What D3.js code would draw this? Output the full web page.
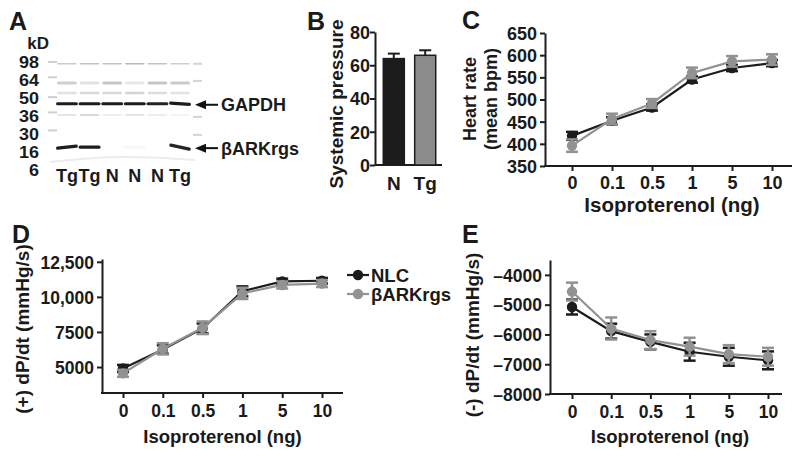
<!DOCTYPE html>
<html><head><meta charset="utf-8">
<script src="https://cdn.jsdelivr.net/npm/d3@7"></script>
<style>
html,body{margin:0;padding:0;background:#fff;}
svg text{font-family:"Liberation Sans",Arial,sans-serif;font-weight:bold;fill:#1a1a1a;}
</style></head>
<body>
<svg id="fig" width="800" height="456"></svg>
<script>
// ---------- DATA ----------
// Panel A (western blot)
const markerLabels = ["98","64","50","36","30","16","6"];
const laneLabels = ["Tg","Tg","N","N","N","Tg"];
// band rows: position in marker-index units, intensity per lane
const bandRowPos   = [0.1, 1.17, 1.72, 2.32, 2.95, 4.73];
const bandRowName  = ["", "", "", "GAPDH", "", "βARKrgs"];
const bandRowThick = [1.5, 3, 2.5, 3.2, 1.5, 3.2];
const bandIntensity = [
  [0.22,0.26,0.26,0.30,0.26,0.20],
  [0.20,0.12,0.24,0.10,0.24,0.22],
  [0.12,0.16,0.16,0.18,0.14,0.12],
  [0.95,0.95,0.95,0.95,0.92,0.95],
  [0.14,0.22,0.10,0.14,0.10,0.06],
  [0.95,0.95,0.00,0.03,0.00,0.92]
];
const ladderLeft  = [0, 0.85, 1.95, 2.8, 3.8];
const ladderRight = [0.1, 1.05, 3.05, 4.05];

// Panel B
const bCategories = ["N","Tg"];
const bValues = [64, 66];
const bErrors = [3, 3];
const bTicks = [0,20,40,60,80];

// Panels C, D, E
const doses = ["0","0.1","0.5","1","5","10"];
const seriesNames = ["NLC","βARKrgs"];
const hrNLC  = [418, 452, 482, 545, 571, 582];
const hrNLCe = [9, 8, 7, 7, 7, 7];
const hrRGS  = [396, 456, 491, 560, 586, 590];
const hrRGSe = [14, 12, 10, 12, 12, 12];
const hrTicks = [350,400,450,500,550,600,650];

const dpNLC  = [4900, 6250, 7750, 10400, 11100, 11150];
const dpNLCe = [250, 300, 350, 350, 200, 200];
const dpRGS  = [4550, 6300, 7800, 10250, 10850, 10950];
const dpRGSe = [250, 400, 450, 400, 250, 250];
const dpTicks = [5000, 7500, 10000, 12500];

const dmNLC  = [-5080, -5890, -6250, -6580, -6750, -6870];
const dmNLCe = [250, 250, 250, 300, 300, 300];
const dmRGS  = [-4560, -5800, -6190, -6410, -6660, -6750];
const dmRGSe = [300, 370, 300, 300, 300, 300];
const dmTicks = [-8000,-7000,-6000,-5000,-4000];

// ---------- STYLE / LAYOUT ----------
const BLACK = "#1c1c1c", GRAY = "#929292";
const svg = d3.select("#fig");

function panelLetter(t, x, y){
  svg.append("text").attr("x",x).attr("y",y).attr("font-size",25).text(t);
}
panelLetter("A", 9, 30);
panelLetter("B", 307, 30);
panelLetter("C", 462, 29);
panelLetter("D", 12, 243);
panelLetter("E", 462, 243);

// ---------- Panel A ----------
(function(){
  const g = svg.append("g");
  const yM = d3.scaleLinear().domain([0,6]).range([62,170]);
  const xL = d3.scaleBand().domain(d3.range(laneLabels.length)).range([57,190]).paddingInner(0.12);
  g.append("text").attr("x",49).attr("y",yM(-1)+5).attr("text-anchor","end").attr("font-size",17).text("kD");
  g.selectAll("text.mk").data(markerLabels).join("text").attr("class","mk")
    .attr("x",39).attr("y",(d,i)=>yM(i)+6).attr("text-anchor","end").attr("font-size",16)
    .attr("textLength",d=>d.length*10).attr("lengthAdjust","spacingAndGlyphs").text(d=>d);
  g.selectAll("rect.ll").data(ladderLeft).join("rect").attr("class","ll")
    .attr("x",48).attr("width",9).attr("y",d=>yM(d)-1).attr("height",2).attr("fill","#cfcfcf");
  g.selectAll("rect.lr").data(ladderRight).join("rect").attr("class","lr")
    .attr("x",193).attr("width",9).attr("y",d=>yM(d)-1).attr("height",2).attr("fill","#d4d4d4");
  bandIntensity.forEach((row, r)=>{
    row.forEach((v, l)=>{
      if(v<=0) return;
      const cx = xL(l)+xL.bandwidth()/2;
      const cy = yM(bandRowPos[r]);
      const tilt = (r===5 && l===5) ? 12 : (r===5 && l===0 ? -6 : (r===3 && l===5 ? 4 : 0));
      g.append("rect")
        .attr("x", xL(l) - (r===3||r===5?1:0)).attr("width", xL.bandwidth() + (r===3||r===5?2:0))
        .attr("y", cy - bandRowThick[r]/2).attr("height", bandRowThick[r])
        .attr("rx", 1.5)
        .attr("fill", "#111").attr("opacity", v)
        .attr("transform", `rotate(${tilt} ${cx} ${cy})`);
    });
  });
  g.append("path").attr("d", d3.line().curve(d3.curveBasis)([[50,162],[120,155],[195,160]]))
    .attr("fill","none").attr("stroke","#ececec").attr("stroke-width",2);
  g.selectAll("text.lane").data(laneLabels).join("text").attr("class","lane")
    .attr("x",(d,i)=>xL(i)+xL.bandwidth()/2).attr("y",182).attr("text-anchor","middle").attr("font-size",18).text(d=>d);
  bandRowName.forEach((n, r)=>{
    if(!n) return;
    const cy = yM(bandRowPos[r]) + 1;
    g.append("line").attr("x1",200).attr("x2",218).attr("y1",cy).attr("y2",cy).attr("stroke","#111").attr("stroke-width",2);
    g.append("path").attr("d",`M195,${cy} L206,${cy-4.5} L206,${cy+4.5} Z`).attr("fill","#111");
    g.append("text").attr("x",221).attr("y",cy+6.5).attr("font-size",18).text(n);
  });
})();

// ---------- Panel B ----------
(function(){
  const g = svg.append("g");
  const y = d3.scaleLinear().domain([0,80]).range([165,32]);
  const x = d3.scaleBand().domain(bCategories).range([377,442]).paddingInner(0.33).paddingOuter(0.2);
  const yAx = g.append("g").attr("transform","translate(375,0)")
    .call(d3.axisLeft(y).tickValues(bTicks).tickSize(5).tickSizeOuter(0));
  yAx.select(".domain").attr("stroke",BLACK).attr("stroke-width",2);
  yAx.selectAll(".tick line").attr("stroke",BLACK).attr("stroke-width",2);
  yAx.selectAll(".tick text").attr("font-size",18).attr("x",-5).attr("dy","0.36em").style("fill","#1a1a1a");
  g.append("line").attr("x1",375).attr("x2",442).attr("y1",y(0)).attr("y2",y(0)).attr("stroke",BLACK).attr("stroke-width",2);
  const fills = [BLACK, "#8c8c8c"];
  g.selectAll("line.err").data(bValues).join("line").attr("class","err")
    .attr("x1",(d,i)=>x(bCategories[i])+x.bandwidth()/2).attr("x2",(d,i)=>x(bCategories[i])+x.bandwidth()/2)
    .attr("y1",d=>y(d)).attr("y2",(d,i)=>y(d+bErrors[i])).attr("stroke",BLACK).attr("stroke-width",2);
  g.selectAll("line.cap").data(bValues).join("line").attr("class","cap")
    .attr("x1",(d,i)=>x(bCategories[i])+x.bandwidth()/2-6).attr("x2",(d,i)=>x(bCategories[i])+x.bandwidth()/2+6)
    .attr("y1",(d,i)=>y(d+bErrors[i])).attr("y2",(d,i)=>y(d+bErrors[i])).attr("stroke",BLACK).attr("stroke-width",2);
  g.selectAll("rect.bar").data(bValues).join("rect").attr("class","bar")
    .attr("x",(d,i)=>x(bCategories[i])).attr("width",x.bandwidth())
    .attr("y",d=>y(d)).attr("height",d=>y(0)-y(d))
    .attr("fill",(d,i)=>fills[i]).attr("stroke",BLACK).attr("stroke-width",1.5);
  g.selectAll("text.cat").data(bCategories).join("text").attr("class","cat")
    .attr("x",d=>x(d)+x.bandwidth()/2).attr("y",190).attr("text-anchor","middle").attr("font-size",19).text(d=>d);
  g.append("text").attr("transform","translate(343,104) rotate(-90)").attr("text-anchor","middle").attr("font-size",19).text("Systemic pressure");
})();

// ---------- Line panels ----------
function linePanel(opt){
  const g = svg.append("g");
  const x = d3.scalePoint().domain(doses).range([opt.xFirst, opt.xLast]);
  const y = d3.scaleLinear().domain(opt.yDomain).range([opt.yBottom, opt.yTop]);
  const yAx = g.append("g").attr("transform",`translate(${opt.yAxisX},0)`)
    .call(d3.axisLeft(y).tickValues(opt.yTicks).tickSize(5).tickSizeOuter(0).tickFormat(opt.fmt));
  yAx.select(".domain").attr("stroke",BLACK).attr("stroke-width",2);
  yAx.selectAll(".tick line").attr("stroke",BLACK).attr("stroke-width",2);
  yAx.selectAll(".tick text").attr("font-size",opt.tickFont).attr("x",-8).attr("dy","0.36em").style("fill","#1a1a1a");
  const xAx = g.append("g").attr("transform",`translate(0,${opt.yBottom})`)
    .call(d3.axisBottom(x).tickSize(5).tickSizeOuter(0));
  xAx.select(".domain").remove();
  xAx.selectAll(".tick line").attr("stroke",BLACK).attr("stroke-width",2);
  xAx.selectAll(".tick text").attr("font-size",opt.tickFont).attr("y",opt.xTickY).attr("dy",0).style("fill","#1a1a1a");
  g.append("line").attr("x1",opt.yAxisX-1).attr("x2",opt.xAxisEnd).attr("y1",opt.yBottom).attr("y2",opt.yBottom)
    .attr("stroke",BLACK).attr("stroke-width",2);
  g.append("text").attr("x",(opt.xFirst+opt.xLast)/2).attr("y",opt.xTitleY).attr("text-anchor","middle")
    .attr("font-size",opt.xTitleFont).text("Isoproterenol (ng)");
  opt.yTitle.forEach((t,i)=>{
    g.append("text").attr("transform",`translate(${opt.yTitleX[i]},${opt.yTitleY}) rotate(-90)`)
      .attr("text-anchor","middle").attr("font-size",opt.yTitleFont).text(t);
  });
  const series = [
    {v:opt.s1, e:opt.e1, c:BLACK},
    {v:opt.s2, e:opt.e2, c:GRAY}
  ];
  [0,1].forEach(k=>{
    const s = series[k];
    const pts = doses.map((d,i)=>({d, v:s.v[i], e:s.e[i]}));
    g.append("path").datum(pts).attr("fill","none").attr("stroke",s.c).attr("stroke-width",2.2)
      .attr("d", d3.line().x(p=>x(p.d)).y(p=>y(p.v)));
    const eg = g.append("g");
    eg.selectAll("line.v").data(pts).join("line").attr("class","v")
      .attr("x1",p=>x(p.d)).attr("x2",p=>x(p.d)).attr("y1",p=>y(p.v-p.e)).attr("y2",p=>y(p.v+p.e))
      .attr("stroke",s.c).attr("stroke-width",2.5);
    ["t","b"].forEach(side=>{
      eg.selectAll("line.c"+side).data(pts).join("line").attr("class","c"+side)
        .attr("x1",p=>x(p.d)-6).attr("x2",p=>x(p.d)+6)
        .attr("y1",p=>y(side==="t"?p.v+p.e:p.v-p.e)).attr("y2",p=>y(side==="t"?p.v+p.e:p.v-p.e))
        .attr("stroke",s.c).attr("stroke-width",2.5);
    });
    g.selectAll(null).data(pts).join("circle")
      .attr("cx",p=>x(p.d)).attr("cy",p=>y(p.v)).attr("r",5.2).attr("fill",s.c);
  });
}

linePanel({
  xFirst:572, xLast:772, xAxisEnd:792, yAxisX:545,
  yDomain:[350,650], yBottom:166, yTop:33, yTicks:hrTicks, fmt:d3.format("d"),
  tickFont:18, xTickY:23, xTitleFont:20.5, xTitleY:212, yTitleFont:18,
  yTitle:["Heart rate","(mean bpm)"], yTitleX:[476,497], yTitleY:99,
  s1:hrNLC, e1:hrNLCe, s2:hrRGS, e2:hrRGSe
});

linePanel({
  xFirst:123, xLast:322, xAxisEnd:343, yAxisX:102,
  yDomain:[3150,12700], yBottom:393, yTop:259, yTicks:dpTicks,
  fmt:d=> d>=10000 ? d3.format(",")(d) : String(d),
  tickFont:17.5, xTickY:24, xTitleFont:18.5, xTitleY:443, yTitleFont:19,
  yTitle:["(+) dP/dt (mmHg/s)"], yTitleX:[29], yTitleY:329,
  s1:dpNLC, e1:dpNLCe, s2:dpRGS, e2:dpRGSe
});

linePanel({
  xFirst:572, xLast:768, xAxisEnd:782, yAxisX:550,
  yDomain:[-8000,-3500], yBottom:394, yTop:260, yTicks:dmTicks,
  fmt:d=> "\u2013"+Math.abs(d),
  tickFont:17.5, xTickY:24, xTitleFont:18.5, xTitleY:443, yTitleFont:19,
  yTitle:["(-) dP/dt (mmHg/s)"], yTitleX:[479], yTitleY:335,
  s1:dmNLC, e1:dmNLCe, s2:dmRGS, e2:dmRGSe
});

// Legend
(function(){
  const g = svg.append("g");
  const yL = d3.scalePoint().domain(seriesNames).range([275,294]);
  const cols = [BLACK, GRAY];
  seriesNames.forEach((n,i)=>{
    g.append("line").attr("x1",347).attr("x2",369).attr("y1",yL(n)).attr("y2",yL(n)).attr("stroke",cols[i]).attr("stroke-width",2.2);
    g.append("circle").attr("cx",358).attr("cy",yL(n)).attr("r",5.2).attr("fill",cols[i]);
    g.append("text").attr("x",371).attr("y",yL(n)+6.5).attr("font-size",18.5).text(n);
  });
})();
</script>
</body></html>
